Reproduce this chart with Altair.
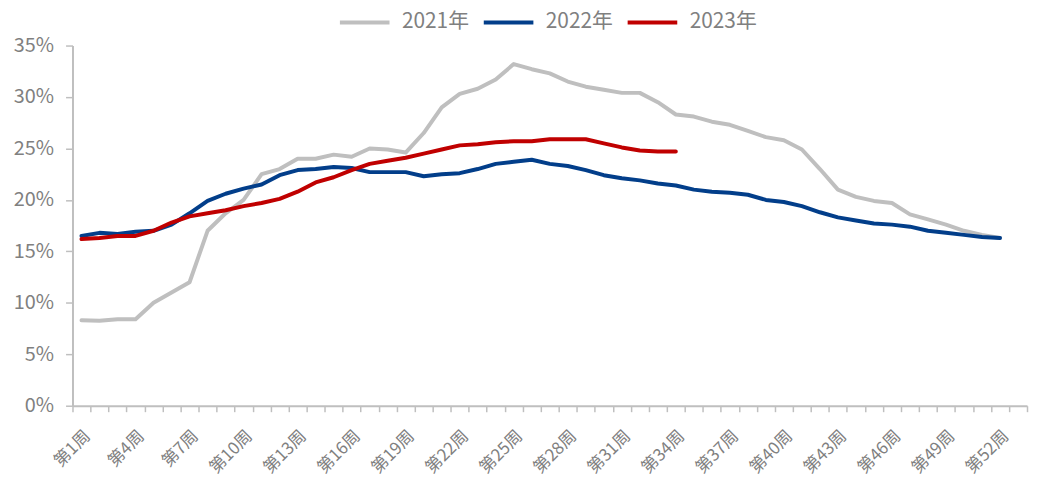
import altair as alt
import pandas as pd

weeks = [f"第{i}周" for i in range(1, 54)]
shown_labels = [f"第{i}周" for i in range(1, 54, 3)]

series_names = ["2021年", "2022年", "2023年"]
colors = ["#BFBFBF", "#023E8A", "#C00000"]

v2021 = [8.3, 8.25, 8.4, 8.4, 10.0, 11.0, 12.0, 17.0, 18.7, 20.0,
         22.5, 23.0, 24.0, 24.0, 24.4, 24.2, 25.0, 24.9, 24.6, 26.5,
         29.0, 30.3, 30.8, 31.7, 33.2, 32.7, 32.3, 31.5, 31.0, 30.7,
         30.4, 30.4, 29.5, 28.3, 28.1, 27.6, 27.3, 26.7, 26.1, 25.8,
         24.9, 23.0, 21.0, 20.3, 19.9, 19.7, 18.6, 18.1, 17.6, 17.0,
         16.6, 16.3]
v2022 = [16.5, 16.8, 16.7, 16.9, 17.0, 17.6, 18.7, 19.9, 20.6, 21.1,
         21.5, 22.4, 22.9, 23.0, 23.2, 23.1, 22.7, 22.7, 22.7, 22.3,
         22.5, 22.6, 23.0, 23.5, 23.7, 23.9, 23.5, 23.3, 22.9, 22.4,
         22.1, 21.9, 21.6, 21.4, 21.0, 20.8, 20.7, 20.5, 20.0, 19.8,
         19.4, 18.8, 18.3, 18.0, 17.7, 17.6, 17.4, 17.0, 16.8, 16.6,
         16.4, 16.3]
v2023 = [16.2, 16.3, 16.5, 16.5, 17.0, 17.8, 18.4, 18.7, 19.0, 19.4,
         19.7, 20.1, 20.8, 21.7, 22.2, 22.9, 23.5, 23.8, 24.1, 24.5,
         24.9, 25.3, 25.4, 25.6, 25.7, 25.7, 25.9, 25.9, 25.9, 25.5,
         25.1, 24.8, 24.7, 24.7]

rows = []
for name, vals in zip(series_names, [v2021, v2022, v2023]):
    for i, v in enumerate(vals):
        rows.append({"week": weeks[i], "year": name, "value": v, "order": i})
df = pd.DataFrame(rows)

FONT = "Noto Sans CJK SC"
GRAY_TXT = "#808080"
AXIS_GRAY = "#BFBFBF"

label_arr = "[" + ",".join(f"'{s}'" for s in shown_labels) + "]"

chart = alt.Chart(df).mark_line(strokeWidth=4, strokeCap="round", strokeJoin="round").encode(
    x=alt.X("week:N", sort=weeks, scale=alt.Scale(domain=weeks, paddingInner=0, paddingOuter=0),
            axis=alt.Axis(title=None, labelAngle=-45, labelFontSize=17, labelColor=GRAY_TXT,
                          labelFont=FONT, tickBand="extent", tickSize=6, tickWidth=1.5,
                          tickColor=AXIS_GRAY, domainColor=AXIS_GRAY, domainWidth=2,
                          labelPadding=16, grid=False,
                          labelExpr=f"indexof({label_arr}, datum.value) >= 0 ? datum.value : ''")),
    y=alt.Y("value:Q", scale=alt.Scale(domain=[0, 35], nice=False),
            axis=alt.Axis(title=None, values=[0, 5, 10, 15, 20, 25, 30, 35],
                          labelExpr="datum.value + '%'", labelFontSize=20, labelColor=GRAY_TXT,
                          labelFont=FONT, tickSize=7, tickWidth=1.5, tickColor=AXIS_GRAY,
                          domainColor=AXIS_GRAY, domainWidth=2, labelPadding=12, grid=False)),
    color=alt.Color("year:N", scale=alt.Scale(domain=series_names, range=colors),
                    legend=alt.Legend(title=None, orient="none", direction="horizontal",
                                      legendX=284, legendY=-34,
                                      symbolType="M-5,0H5", symbolSize=100,
                                      symbolStrokeWidth=4, labelOffset=27,
                                      columnPadding=6, labelFontSize=21,
                                      labelColor=GRAY_TXT, labelFont=FONT, padding=0)),
    order="order:Q",
).properties(
    width=1029, height=363,
    autosize=alt.AutoSizeParams(type="fit-x", contains="padding"),
    padding={"left": 5, "right": 0, "top": 26, "bottom": 0},
).configure_view(stroke=None)

chart.save("out.html", embed_options={"renderer": "svg", "actions": False})
